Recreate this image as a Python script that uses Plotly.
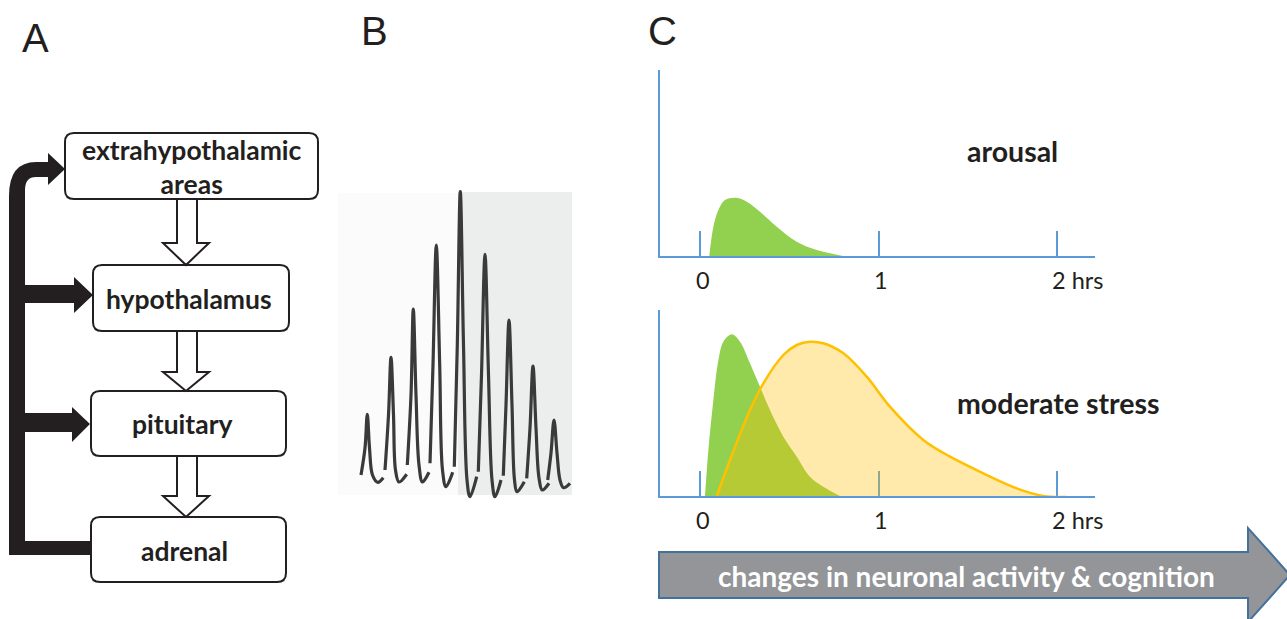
import plotly.graph_objects as go

W, H = 1287, 619

# ---------------- Panel B: pulsatile secretion (arbitrary time / level units) ----------------
pulse_time = [
    [23, 27, 29.3, 31.5, 34.5, 39.7, 45.3],
    [47, 50.5, 53, 55.5, 57.5, 61, 68.7],
    [69.3, 73, 75.3, 78, 81, 84.5, 91],
    [92, 95, 98.3, 101.7, 104.5, 108, 114.7],
    [116.3, 119.3, 122.3, 125.5, 129, 132, 138.7],
    [140.3, 143.5, 147, 150.5, 154, 157, 163],
    [165.3, 168, 171, 174, 176.5, 179, 186.3],
    [188.7, 192, 195, 198, 201, 204.3, 211],
    [209.7, 213, 216, 219, 222, 225.5, 232],
]
pulse_level = [
    [22, 49, 82.7, 49, 22, 14.7, 19.3],
    [27, 82, 139.7, 82, 27, 15, 22.7],
    [32, 102, 188, 102, 32, 15, 24.7],
    [33.7, 132, 252, 132, 27, 10.3, 24.7],
    [30.3, 152, 305.3, 152, 17, 0.3, 20.3],
    [25.3, 122, 242.7, 122, 17, 0.3, 17],
    [21.3, 92, 177, 92, 17, 5.3, 15.3],
    [18.7, 69, 131, 69, 19, 7, 13.7],
    [17, 44, 77, 44, 17, 9.3, 13.7],
]

# ---------------- Panel C: response curves (hours / arbitrary intensity) ----------------
arousal_t = [0.052, 0.075, 0.103, 0.140, 0.202, 0.262, 0.336, 0.430, 0.542, 0.654, 0.803]
arousal_v = [0, 29.3, 46, 56, 58.3, 54.3, 44.3, 29.3, 14.3, 6, 0]

stress_fast_t = [0.028, 0.047, 0.075, 0.103, 0.131, 0.178, 0.224, 0.280, 0.336, 0.392,
                 0.467, 0.542, 0.616, 0.691, 0.784]
stress_fast_v = [0, 46, 96, 135.7, 154.3, 161.7, 154.3, 132.7, 109.3, 86,
                 59.3, 39.3, 19.3, 9.3, 0]

stress_slow_t = [0.094, 0.168, 0.280, 0.355, 0.467, 0.542, 0.616, 0.691, 0.803, 0.934,
                 1.064, 1.251, 1.401, 1.587, 1.774, 1.923, 2.054]
stress_slow_v = [0, 36, 86, 112.7, 141, 151, 154.3, 152.7, 142.7, 119.3,
                 89.3, 56, 39.3, 22.7, 7.7, 0, -1]

tick_vals = [0, 1, 2]
tick_text = ["0", "1", "2 hrs"]

# ---------------- Panel A labels ----------------
box_labels = ["extrahypothalamic<br>areas", "hypothalamus", "pituitary", "adrenal"]
panel_letters = ["A", "B", "C"]
arrow_label = "changes in neuronal activity & cognition"
curve_labels = ["arousal", "moderate stress"]

# ---------------- styles ----------------
INK = "#231f20"
BLUE = "#5b9bd5"
GREEN = "#92d050"
YELLOW_LINE = "#ffc000"
YELLOW_FILL = "rgba(255,192,0,0.33)"
PULSE = "#3a3a3a"
FONT = "Lato"


def px(x):
    return x / W


def py(y):
    return 1 - y / H


def path(cmds):
    """cmds: list of (letter, [x, y, x, y ...]) in pixel space -> paper path"""
    out = []
    for c, pts in cmds:
        s = c
        for i in range(0, len(pts), 2):
            s += " %.5f,%.5f" % (px(pts[i]), py(pts[i + 1]))
        out.append(s)
    return " ".join(out) + " Z"


def rrect(x0, y0, x1, y1, r=8):
    return path([
        ("M", [x0 + r, y0]), ("L", [x1 - r, y0]), ("Q", [x1, y0, x1, y0 + r]),
        ("L", [x1, y1 - r]), ("Q", [x1, y1, x1 - r, y1]), ("L", [x0 + r, y1]),
        ("Q", [x0, y1, x0, y1 - r]), ("L", [x0, y0 + r]), ("Q", [x0, y0, x0 + r, y0]),
    ])


fig = go.Figure()

# Panel B traces
for t, v in zip(pulse_time, pulse_level):
    fig.add_trace(go.Scatter(x=t, y=v, mode="lines", line=dict(color=PULSE, width=3.2, shape="spline", smoothing=1),
                             xaxis="x", yaxis="y", showlegend=False, hoverinfo="skip"))

# Panel C top
fig.add_trace(go.Scatter(x=arousal_t, y=arousal_v, mode="lines", fill="tozeroy", fillcolor=GREEN,
                         line=dict(color=GREEN, width=0, shape="spline", smoothing=1),
                         xaxis="x2", yaxis="y2", showlegend=False, hoverinfo="skip"))
# Panel C bottom
fig.add_trace(go.Scatter(x=stress_fast_t, y=stress_fast_v, mode="lines", fill="tozeroy", fillcolor=GREEN,
                         line=dict(color=GREEN, width=0, shape="spline", smoothing=1),
                         xaxis="x3", yaxis="y3", showlegend=False, hoverinfo="skip"))
fig.add_trace(go.Scatter(x=stress_slow_t, y=stress_slow_v, mode="lines", fill="tozeroy", fillcolor=YELLOW_FILL,
                         line=dict(color=YELLOW_LINE, width=2.5, shape="spline", smoothing=1),
                         xaxis="x3", yaxis="y3", showlegend=False, hoverinfo="skip"))

hidden = dict(visible=False, fixedrange=True)
c_x = dict(domain=[px(660), px(1095)], range=[-40 / 178.5, 395 / 178.5], showline=True, linecolor=BLUE,
           linewidth=2, ticks="inside", ticklen=25, tickwidth=2, tickcolor=BLUE, tickvals=tick_vals,
           showticklabels=False, showgrid=False, zeroline=False, fixedrange=True, layer="below traces")
c_y = dict(range=[0, 186], showline=True, linecolor=BLUE, linewidth=2, ticks="", showticklabels=False,
           showgrid=False, zeroline=False, fixedrange=True, layer="below traces")

fig.update_layout(
    width=W, height=H, margin=dict(l=0, r=0, t=0, b=0, pad=0),
    paper_bgcolor="white", plot_bgcolor="rgba(0,0,0,0)",
    xaxis=dict(domain=[px(334), px(576)], range=[-4, 238], anchor="y", **hidden),
    yaxis=dict(domain=[py(501), py(187)], range=[-4, 310], anchor="x", **hidden),
    xaxis2=dict(anchor="y2", **c_x),
    yaxis2=dict(domain=[py(256), py(70)], anchor="x2", **c_y),
    xaxis3=dict(anchor="y3", **c_x),
    yaxis3=dict(domain=[py(496), py(310)], anchor="x3", **c_y),
)

shapes = []
# Panel B backgrounds
shapes.append(dict(type="rect", xref="paper", yref="paper", x0=px(338), x1=px(458), y0=py(495), y1=py(193),
                   fillcolor="#fafbfa", line=dict(width=0), layer="below"))
shapes.append(dict(type="rect", xref="paper", yref="paper", x0=px(458), x1=px(572), y0=py(495), y1=py(192),
                   fillcolor="#eceeed", line=dict(width=0), layer="below"))

# Panel A: black feedback arrows
black_paths = [
    path([("M", [9, 555]), ("L", [9, 196]), ("Q", [9, 162, 36, 162]), ("L", [48, 162]), ("L", [48, 153]),
          ("L", [65, 169]), ("L", [48, 185]), ("L", [48, 177]), ("L", [36, 177]), ("Q", [25, 177, 25, 190]),
          ("L", [25, 541]), ("L", [91, 541]), ("L", [91, 555])]),
    path([("M", [20, 285]), ("L", [74, 285]), ("L", [74, 277]), ("L", [93, 295]), ("L", [74, 313]),
          ("L", [74, 303]), ("L", [20, 303])]),
    path([("M", [20, 413]), ("L", [72, 413]), ("L", [72, 407]), ("L", [90, 424]), ("L", [72, 442]),
          ("L", [72, 432]), ("L", [20, 432])]),
]
for p in black_paths:
    shapes.append(dict(type="path", xref="paper", yref="paper", path=p, fillcolor=INK, line=dict(width=0)))

# Panel A: boxes
boxes = [(65, 133, 318, 199), (93, 265, 289, 331), (91, 391, 286, 456), (91, 517, 286, 582)]
for b in boxes:
    shapes.append(dict(type="path", xref="paper", yref="paper", path=rrect(*b, r=9), fillcolor="white",
                       line=dict(color=INK, width=2)))

# Panel A: hollow arrows
for ytop, yse, ytip in [(199, 243, 265), (331, 372, 391), (456, 496, 517)]:
    shapes.append(dict(type="path", xref="paper", yref="paper",
                       path=path([("M", [177, ytop]), ("L", [197, ytop]), ("L", [197, yse]), ("L", [209, yse]),
                                  ("L", [186, ytip]), ("L", [163, yse]), ("L", [177, yse])]),
                       fillcolor="white", line=dict(color=INK, width=2)))

# Panel C: big arrow
shapes.append(dict(type="path", xref="paper", yref="paper",
                   path=path([("M", [659, 552]), ("L", [1248, 552]), ("L", [1248, 528]), ("L", [1290, 575]),
                              ("L", [1248, 622]), ("L", [1248, 598]), ("L", [659, 598])]),
                   fillcolor="#939598", line=dict(color="#41719c", width=2)))

fig.update_layout(shapes=shapes)

ann = []
# panel letters
for letter, (x, y) in zip(panel_letters, [(35, 38), (374, 31), (662, 31)]):
    ann.append(dict(text=letter, x=px(x), y=py(y), xref="paper", yref="paper", showarrow=False,
                    xanchor="center", yanchor="middle",
                    font=dict(family="Liberation Sans", size=40, color=INK)))
# box labels
for lab, (x, y) in zip(box_labels, [(192, 167), (189, 299), (182, 424), (184, 551)]):
    ann.append(dict(text=lab, x=px(x), y=py(y), xref="paper", yref="paper", showarrow=False,
                    xanchor="center", yanchor="middle",
                    font=dict(family=FONT, size=26.5, color=INK, weight=700)))
# curve labels
for lab, (x, y) in zip(curve_labels, [(1012, 151), (1058, 403)]):
    ann.append(dict(text=lab, x=px(x), y=py(y), xref="paper", yref="paper", showarrow=False,
                    xanchor="center", yanchor="middle",
                    font=dict(family=FONT, size=28.5, color=INK, weight=700)))
# tick labels
for xa, ya in [("x2", "y2"), ("x3", "y3")]:
    for v, t in zip(tick_vals, tick_text):
        ann.append(dict(text=t, x=v, xref=xa, y=0, yref=ya + " domain", yshift=-24, showarrow=False,
                        xanchor="left" if t.endswith("hrs") else "center", xshift=-7 if t.endswith("hrs") else 3,
                        yanchor="middle", font=dict(family=FONT, size=23.5, color=INK)))
# arrow label
ann.append(dict(text=arrow_label, x=px(966), y=py(576), xref="paper", yref="paper", showarrow=False,
                xanchor="center", yanchor="middle", font=dict(family=FONT, size=28, color="white", weight=700)))
fig.update_layout(annotations=ann)

fig.write_html("out.html", config={"displayModeBar": False},
               post_script="document.body.style.margin='0';document.body.style.overflow='hidden';")
